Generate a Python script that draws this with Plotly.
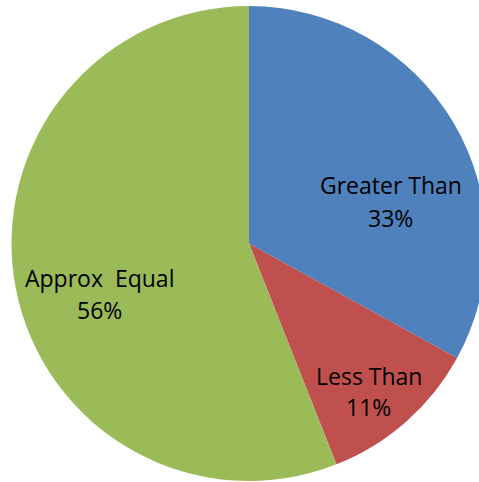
import plotly.graph_objects as go

labels = ["Greater Than", "Less Than", "Approx  Equal"]
values = [33, 11, 56]
colors = ["#4F81BD", "#C0504D", "#9BBB59"]

W, H = 498, 482
fig = go.Figure(go.Pie(
    labels=labels,
    values=values,
    sort=False,
    direction="clockwise",
    rotation=0,
    marker=dict(colors=colors, line=dict(width=0)),
    textinfo="none",
    showlegend=False,
    hoverinfo="skip",
    domain=dict(x=[0, 1], y=[1 / H, (H - 6) / H]),
))

# label placement (pixel centres of the two text lines for each slice)
label_pos = [(390.5, 185, 218), (368.5, 375.5, 407), (99.5, 278, 310)]
total = sum(values)
font = dict(family="Open Sans", size=23, color="black")
for lab, v, (px, py1, py2) in zip(labels, values, label_pos):
    pct = f"{round(v / total * 100)}%"
    for txt, py in ((lab, py1), (pct, py2)):
        fig.add_annotation(
            x=px / W, y=1 - py / H, xref="paper", yref="paper",
            text=txt.replace("  ", "&nbsp; "), showarrow=False,
            xanchor="center", yanchor="middle", font=font,
        )

fig.update_layout(
    width=W, height=H,
    margin=dict(l=0, r=0, t=0, b=0),
    paper_bgcolor="white",
    plot_bgcolor="white",
)
fig.write_html(
    "out.html",
    config={"displayModeBar": False},
    post_script="document.documentElement.style.overflow='hidden';document.body.style.overflow='hidden';document.body.style.margin='0';",
)
